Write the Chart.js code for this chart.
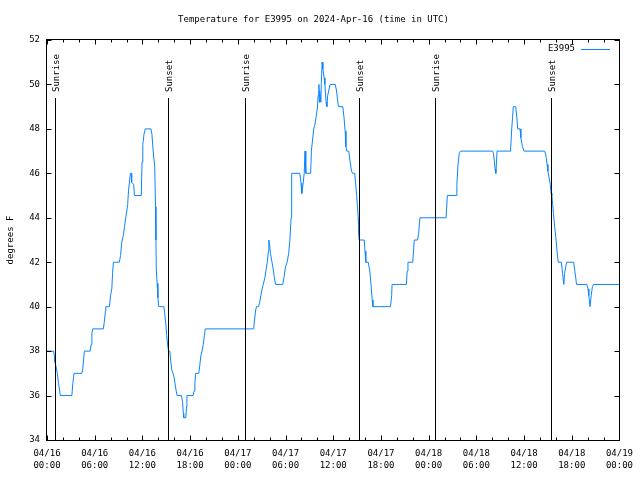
<!DOCTYPE html>
<html>
<head>
<meta charset="utf-8">
<script src="https://cdn.jsdelivr.net/npm/chart.js@4"></script>
<style>
  html, body { margin: 0; padding: 0; background: #fff; }
  #wrap { width: 640px; height: 480px; }
</style>
</head>
<body>
<div id="wrap"><canvas id="chart" width="640" height="480"></canvas></div>
<script>
// hours since 2024-04-16 00:00 UTC, and temperature in degrees F
const tempHours = [
  0, 0.83, 0.95, 1.0, 1.2, 1.3, 1.45, 1.6, 1.67, 3.13, 3.25, 3.4, 4.38, 4.5, 4.6, 4.7, 5.43, 5.55, 5.65, 5.75,
  7.09, 7.2, 7.35, 7.4, 7.85, 8.0, 8.15, 8.25, 8.35, 9.1, 9.25, 9.4, 9.6, 9.75, 9.9, 10.05, 10.15, 10.25, 10.4, 10.5,
  10.6, 10.65, 10.9, 11.0, 11.86, 11.95, 12.05, 12.2, 12.36, 13.07, 13.2, 13.35, 13.55, 13.65, 13.7, 13.75, 13.85, 13.95, 14.05, 14.7,
  14.8, 14.95, 15.05, 15.2, 15.3, 15.45, 15.55, 15.7, 15.85, 16.0, 16.1, 16.25, 16.37, 16.92, 17.05, 17.15, 17.2, 17.46, 17.55, 17.6,
  18.37, 18.5, 18.6, 18.7, 19.08, 19.2, 19.35, 19.5, 19.65, 19.8, 19.9,
  26.0, 26.1, 26.25, 26.35, 26.6, 26.75, 26.9, 27.05, 27.2, 27.4, 27.55, 27.7, 27.85, 27.9, 28.0, 28.1, 28.3, 28.45, 28.6, 28.75,
  29.65, 29.8, 30.0, 30.2, 30.4, 30.55, 30.7, 30.75, 30.8, 31.8, 31.95, 32.05, 32.2, 32.35, 32.45, 32.55, 33.16, 33.25, 33.4, 33.55,
  33.7, 33.85, 34.0, 34.1, 34.2, 34.25, 34.3, 34.45, 34.5, 34.6, 34.7, 34.85, 34.95, 35.1, 35.2, 35.3, 35.45, 35.6, 36.25, 36.4,
  36.55, 36.65, 37.2, 37.35, 37.5, 37.6, 37.7, 37.95, 38.1, 38.3, 38.45, 38.7, 38.8, 38.95, 39.05, 39.15, 39.2, 39.25, 39.9, 40.0,
  40.1, 40.4, 40.6, 40.75, 40.9, 41.0, 43.2, 43.35, 43.4, 45.2, 45.3, 45.4, 46.0, 46.1, 46.2, 46.6, 46.75, 46.9,
  50.2, 50.35, 51.45, 51.55, 51.7, 51.85, 52.0, 56.05, 56.15, 56.25, 56.35, 56.45, 56.55, 56.6, 58.3, 58.45, 58.55, 58.65, 58.95, 59.1,
  59.2, 59.5, 59.6, 59.8, 60.0, 62.6, 62.75, 62.9, 63.0, 63.15, 63.3, 63.4, 63.5, 63.6, 63.7, 63.85, 64.0, 64.15, 64.3, 64.7,
  64.85, 65.0, 65.1, 65.25, 65.35, 66.25, 66.35, 66.5, 66.6, 67.9, 68.05, 68.15, 68.3, 68.45, 68.6, 68.75, 72
];
const tempValues = [
  38, 38, 37.75, 37.5, 37.2, 37, 36.55, 36.2, 36, 36, 36.55, 37, 37, 37.2, 37.6, 38, 38, 38.3, 38.8, 39,
  39, 39.3, 39.8, 40, 40, 40.5, 40.8, 41.5, 42, 42, 42.3, 42.9, 43.2, 43.6, 44, 44.35, 44.6, 45.2, 45.7, 46,
  46, 45.6, 45.5, 45, 45, 46.5, 47.3, 47.75, 48, 48, 47.75, 47, 46.3, 44.5, 43, 41.65, 41.05, 40.4, 40, 40,
  39.7, 39.2, 38.7, 38.2, 38, 38, 37.6, 37.15, 37, 36.8, 36.55, 36.2, 36, 36, 35.7, 35.2, 35, 35, 35.5, 36,
  36, 36.2, 36.55, 37, 37, 37.3, 37.8, 38, 38.3, 38.7, 39,
  39, 39.4, 39.85, 40, 40, 40.2, 40.5, 40.8, 41, 41.3, 41.65, 42, 42.5, 43, 42.8, 42.4, 42, 41.7, 41.3, 41,
  41, 41.3, 41.8, 42, 42.4, 43, 44, 45, 46, 46, 45.55, 45.1, 45.5, 46, 47, 46, 46, 47, 47.5, 48,
  48.2, 48.55, 48.9, 49.5, 50, 49.2, 49.7, 49.2, 50.05, 51, 50.7, 50.3, 50, 49.2, 49, 49.5, 49.75, 50, 50, 49.75,
  49.3, 49, 49, 48.55, 47.9, 47.2, 47, 47, 46.6, 46.1, 46, 46, 45.6, 45, 44.5, 44, 43.3, 43, 43, 42.5,
  42, 42, 41.6, 41, 40.3, 40, 40, 40.5, 41, 41, 41.6, 42, 42, 42.5, 43, 43, 43.3, 44,
  44, 45, 45, 45.5, 46.4, 46.9, 47, 47, 46.9, 46.6, 46.2, 46, 46.6, 47, 47, 48, 48.5, 49, 49, 48.5,
  48, 48, 47.6, 47.2, 47, 47, 46.8, 46.4, 46.1, 45.8, 45.5, 45.1, 45, 44.6, 44.2, 43.6, 43.1, 42.5, 42, 42,
  41.5, 41, 41.5, 41.8, 42, 42, 41.7, 41.3, 41, 41, 40.8, 40.5, 40, 40.5, 40.9, 41, 41
];

const sunriseHours = [0.95, 24.89, 48.8];
const sunsetHours = [15.24, 39.3, 63.36];

const xTickDates = ['04/16', '04/16', '04/16', '04/16', '04/17', '04/17', '04/17', '04/17',
                    '04/18', '04/18', '04/18', '04/18', '04/19'];
const xTickTimes = ['00:00', '06:00', '12:00', '18:00', '00:00', '06:00', '12:00', '18:00',
                    '00:00', '06:00', '12:00', '18:00', '00:00'];
const yTicks = [34, 36, 38, 40, 42, 44, 46, 48, 50, 52];

const seriesName = 'E3995';
const lineColor = '#0a84ff';
const FONT = "'DejaVu Sans Mono', 'Liberation Mono', monospace";

// gnuplot-like frame: inward ticks on all sides, sun markers, legend
const framePlugin = {
  id: 'frame',
  afterDatasetsDraw(chart) {
    const { ctx, chartArea: a, scales: { x, y } } = chart;
    const L = Math.round(a.left) - 0.5, R = Math.round(a.right) + 0.5;
    const T = Math.round(a.top) - 0.5, B = Math.round(a.bottom) + 0.5;
    ctx.save();
    ctx.strokeStyle = '#000';
    ctx.lineWidth = 1;
    ctx.beginPath();
    for (let h = 0; h <= 72; h += 2) {
      const px = Math.round(x.getPixelForValue(h)) + 0.5;
      const len = h % 6 === 0 ? 5 : 3;
      ctx.moveTo(px, B); ctx.lineTo(px, B - len);
      ctx.moveTo(px, T); ctx.lineTo(px, T + len);
    }
    yTicks.forEach(v => {
      const py = Math.round(y.getPixelForValue(v)) + 0.5;
      ctx.moveTo(L, py); ctx.lineTo(L + 5, py);
      ctx.moveTo(R, py); ctx.lineTo(R - 5, py);
    });
    ctx.stroke();
    ctx.strokeRect(L, T, R - L, B - T);

    // sunrise / sunset lines
    ctx.font = '9px ' + FONT;
    ctx.fillStyle = '#000';
    const marks = sunriseHours.map(h => [h, 'Sunrise']).concat(sunsetHours.map(h => [h, 'Sunset']));
    marks.forEach(([h, label]) => {
      const px = Math.round(x.getPixelForValue(h)) + 0.5;
      ctx.beginPath();
      ctx.moveTo(px, 98); ctx.lineTo(px, B);
      ctx.stroke();
      ctx.save();
      ctx.translate(px + 1, 92);
      ctx.rotate(-Math.PI / 2);
      ctx.textAlign = 'left';
      ctx.textBaseline = 'middle';
      ctx.fillText(label, 0, 0);
      ctx.restore();
    });

    // legend
    ctx.textAlign = 'right';
    ctx.textBaseline = 'middle';
    ctx.fillText(seriesName, 575, 49);
    ctx.strokeStyle = lineColor;
    ctx.beginPath();
    ctx.moveTo(581, 49.5); ctx.lineTo(610, 49.5);
    ctx.stroke();
    ctx.restore();
  }
};

const ctx = document.getElementById('chart').getContext('2d');
new Chart(ctx, {
  type: 'line',
  data: {
    datasets: [{
      label: seriesName,
      data: tempHours.map((h, i) => ({ x: h, y: tempValues[i] })),
      borderColor: lineColor,
      borderWidth: 1,
      pointRadius: 0,
      tension: 0,
      fill: false
    }]
  },
  options: {
    responsive: false,
    animation: false,
    layout: { padding: { left: 0, right: 13, top: 0, bottom: 0 } },
    plugins: {
      legend: { display: false },
      tooltip: { enabled: false },
      title: {
        display: true,
        text: 'Temperature for E3995 on 2024-Apr-16 (time in UTC)',
        color: '#000',
        font: { family: FONT, size: 9, weight: 'normal', lineHeight: 1.2 },
        padding: { top: 14, bottom: 15.2 }
      }
    },
    scales: {
      x: {
        type: 'linear',
        min: 0,
        max: 72,
        afterFit: s => { s.height = 40; },
        grid: { display: false, drawTicks: false },
        border: { display: false },
        ticks: {
          stepSize: 6,
          autoSkip: false,
          maxRotation: 0,
          padding: 7,
          color: '#000',
          font: { family: FONT, size: 9, lineHeight: 1.4 },
          callback: v => [xTickDates[v / 6], xTickTimes[v / 6]]
        }
      },
      y: {
        min: 34,
        max: 52,
        afterFit: s => { s.width = 47; },
        grid: { display: false, drawTicks: false },
        border: { display: false },
        title: {
          display: true,
          text: 'degrees F',
          color: '#000',
          font: { family: FONT, size: 9, lineHeight: 1.2 },
          padding: { top: 5, bottom: 0 }
        },
        ticks: {
          stepSize: 2,
          padding: 7,
          color: '#000',
          font: { family: FONT, size: 9 },
          callback: v => String(v)
        }
      }
    }
  },
  plugins: [framePlugin]
});
</script>
</body>
</html>
